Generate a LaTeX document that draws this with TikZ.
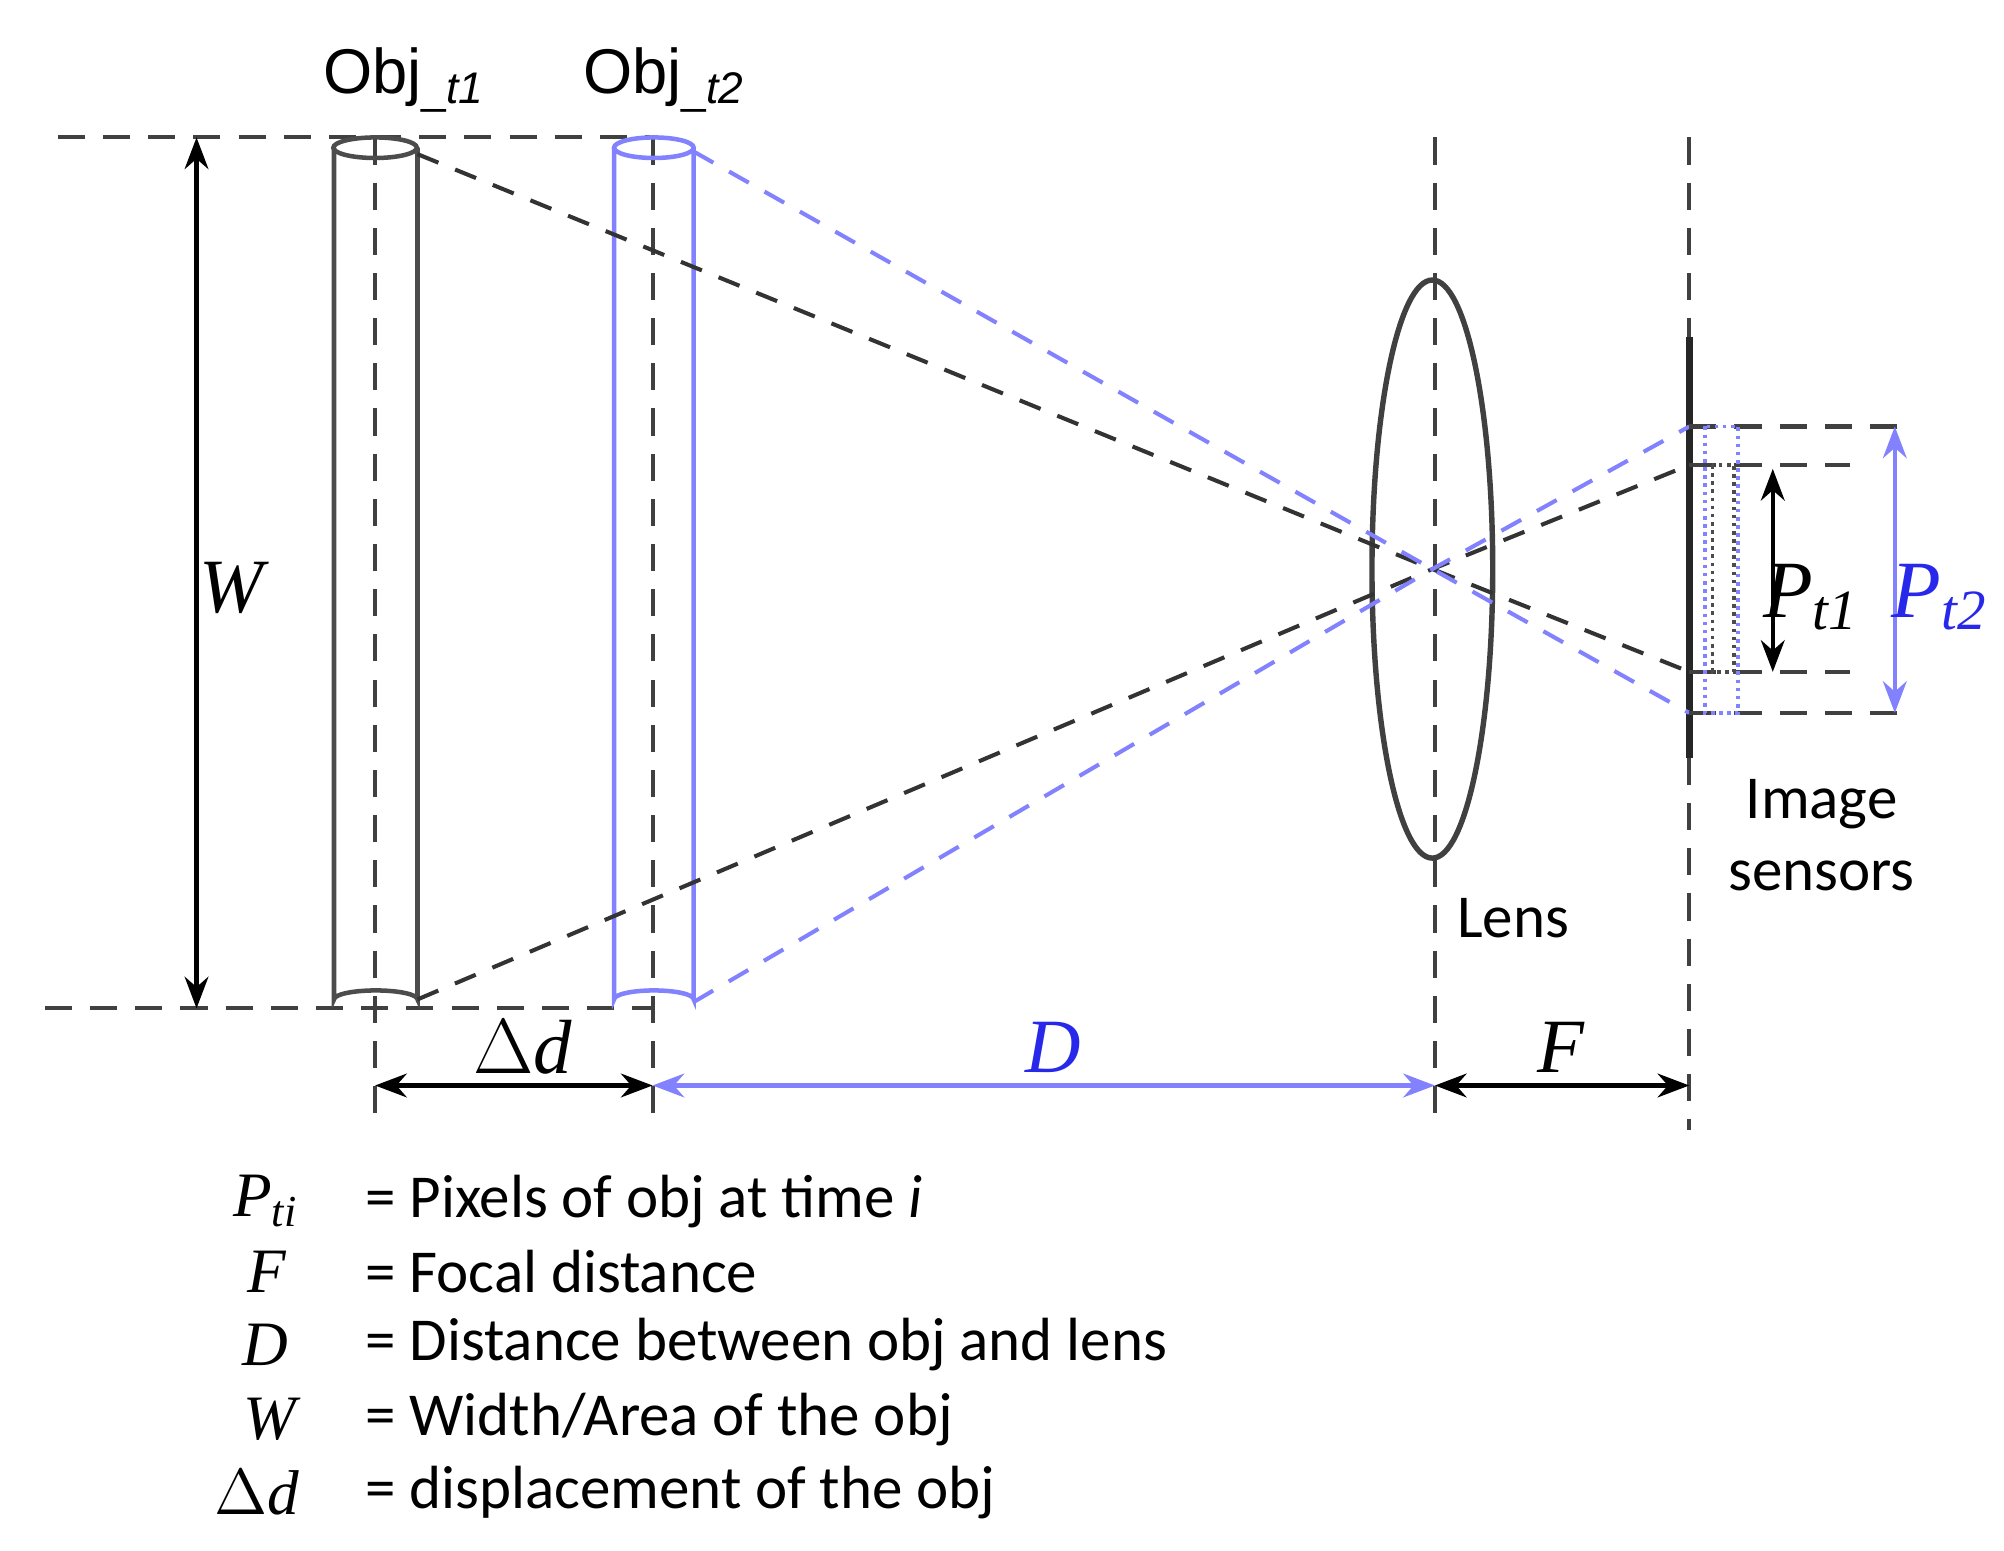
\documentclass[tikz,border=0pt]{standalone}
\usepackage{fontspec}
\setmainfont{Carlito}
\newfontfamily\arialf{Liberation Sans}
\newfontfamily\timesf{Liberation Serif}
\usetikzlibrary{arrows.meta}
\definecolor{lb}{RGB}{130,130,255}
\definecolor{db}{RGB}{40,40,235}
\begin{document}
\begin{tikzpicture}[x=0.01cm,y=-0.01cm,
  dsh/.style={dash pattern=on 6pt off 4pt, line width=0.9pt, black!75},
  ray/.style={dash pattern=on 5pt off 4pt, line width=0.9pt},
  dim/.style={line width=1pt,{Stealth[length=7pt]}-{Stealth[length=7pt]}},
  lbl/.style={font=\fontsize{13.5}{16}\selectfont},
  mi/.style={font=\timesf\itshape\fontsize{17}{19}\selectfont},
  sym/.style={font=\timesf\itshape\fontsize{14}{16}\selectfont,anchor=east},
  leg/.style={font=\fontsize{13.5}{16}\selectfont, anchor=west}]
\useasboundingbox (0,0) rectangle (1560,1207);
\coordinate (tl) at (45,107); \coordinate (tr) at (510,107);
\coordinate (bl) at (35,785); \coordinate (br) at (510,785);
\coordinate (c) at (1115,443);
\draw[dsh] (tl) -- (tr);
\draw[dsh] (bl) -- (br);
\draw[dsh] (292,107) -- (292,875);
\draw[dsh] (508,107) -- (508,875);
\draw[dsh] (1117,107) -- (1117,880);
\draw[dsh] (1315,107) -- (1315,262);
\draw[dsh] (1315,590) -- (1315,880);
\coordinate (wa) at (153,107); \coordinate (wb) at (153,785);
\draw[dim] (wa) -- (wb);
\node[mi] (W) at (180,458) {W};
\draw[black!70,line width=1pt] (260,115) -- (260,778) arc (180:360:32.5 and 7) -- (325,115);
\draw[black!70,line width=1pt] (292,115) ellipse (32.5 and 8);
\draw[lb,line width=1pt] (478,115) -- (478,778) arc (180:360:31 and 7) -- (540,115);
\draw[lb,line width=1pt] (509,115) ellipse (31 and 8);
\draw[black!75,line width=1.2pt] (c) ellipse (47 and 225);
\draw[black!85,line width=1.5pt] (1315,262) -- (1315,590);
\coordinate (a1) at (325,120); \coordinate (a2) at (325,778);
\coordinate (b1) at (540,118); \coordinate (b2) at (540,780);
\coordinate (s1) at (1315,523); \coordinate (s2) at (1315,362);
\coordinate (s3) at (1315,555); \coordinate (s4) at (1315,332);
\draw[ray,black!80] (a1) -- (c) -- (s1);
\draw[ray,black!80] (a2) -- (c) -- (s2);
\draw[ray,lb] (b1) -- (c) -- (s3);
\draw[ray,lb] (b2) -- (c) -- (s4);
\draw[dsh] (s4) -- (1490,332);
\draw[dsh] (s3) -- (1490,555);
\draw[dsh] (s2) -- (1440,362);
\draw[dsh] (s1) -- (1440,523);
\draw[lb,densely dotted,line width=0.8pt] (1327,332) rectangle (1353,555);
\draw[black!70,densely dotted,line width=0.8pt] (1333,362) rectangle (1350,523);
\coordinate (p1a) at (1380,365); \coordinate (p1b) at (1380,523);
\draw[dim] (p1a) -- (p1b);
\node[mi,font=\timesf\itshape\fontsize{18}{20}\selectfont] (pt1) at (1410,465) {P\textsubscript{t1}};
\coordinate (p2a) at (1475,332); \coordinate (p2b) at (1475,555);
\draw[dim,lb] (p2a) -- (p2b);
\node[mi,db,font=\timesf\itshape\fontsize{18}{20}\selectfont] (pt2) at (1510,465) {P\textsubscript{t2}};
\node[lbl,align=center] (img) at (1418,650) {Image\\sensors};
\node[lbl] (lens) at (1178,715) {Lens};
\node[font=\arialf\fontsize{14}{16}\selectfont] (o1) at (315,62) {Obj\textsubscript{\_\itshape t1}};
\node[font=\arialf\fontsize{14}{16}\selectfont] (o2) at (517,62) {Obj\textsubscript{\_\itshape t2}};
\coordinate (d0) at (292,845); \coordinate (d1) at (508,845);
\coordinate (d2) at (1117,845); \coordinate (d3) at (1315,845);
\draw[dim] (d0) -- (d1);
\draw[dim,lb] (d1) -- (d2);
\draw[dim] (d2) -- (d3);
\node[mi] (dd) at (407,815) {$\Delta$d};
\node[mi,db] (DD) at (820,815) {D};
\node[mi] (FF) at (1215,815) {F};
\node[sym] (l1) at (245,935) {P\textsubscript{ti}};
\node[sym] (l2) at (235,990) {F};
\node[sym] (l3) at (237,1047) {D};
\node[sym] (l4) at (243,1105) {W};
\node[sym] (l5) at (245,1162) {$\Delta$d};
\node[leg] (t1) at (272,935) {= Pixels of obj at time \textit{i}};
\node[leg] (t2) at (272,990) {= Focal distance};
\node[leg] (t3) at (272,1047) {= Distance between obj and lens};
\node[leg] (t4) at (272,1105) {= Width/Area of the obj};
\node[leg] (t5) at (272,1162) {= displacement of the obj};
\end{tikzpicture}
\end{document}
